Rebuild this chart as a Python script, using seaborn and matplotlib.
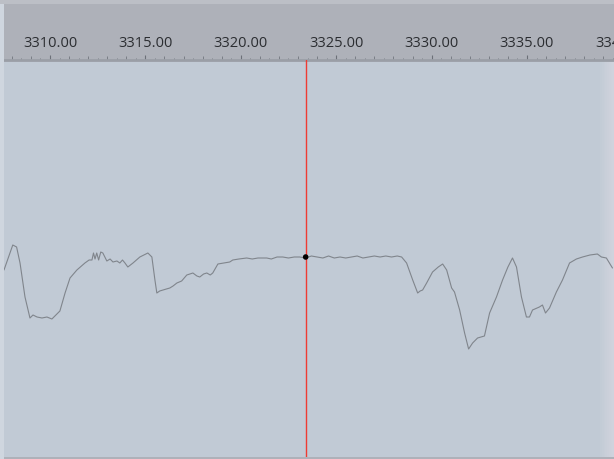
import matplotlib
matplotlib.use("Agg")
import matplotlib.pyplot as plt
import matplotlib.patches as mpatches
import matplotlib.transforms as mtransforms
from matplotlib.ticker import MultipleLocator, FormatStrFormatter
import seaborn as sns
import pandas as pd

sns.set_theme(style="white")
plt.rcParams["font.family"] = ["Open Sans", "DejaVu Sans"]

# Spectrum trace: wavelength and relative intensity
wavelength = [
    3307.59, 3308.05, 3308.25, 3308.43, 3308.69, 3308.95, 3309.11, 3309.32,
    3309.58, 3309.84, 3310.10, 3310.26, 3310.52, 3310.79, 3311.05, 3311.41,
    3311.83, 3312.05, 3312.20, 3312.28, 3312.36, 3312.45, 3312.55, 3312.66,
    3312.77, 3312.98, 3313.15, 3313.30, 3313.51, 3313.66, 3313.80, 3313.93,
    3314.08, 3314.35, 3314.71, 3315.13, 3315.34, 3315.50, 3315.60, 3315.75,
    3315.92, 3316.10, 3316.28, 3316.45, 3316.65, 3316.90, 3317.17, 3317.49,
    3317.70, 3317.85, 3318.05, 3318.22, 3318.40, 3318.53, 3318.80, 3319.10,
    3319.42, 3319.58, 3319.90, 3320.31, 3320.60, 3320.90, 3321.10, 3321.36,
    3321.60, 3321.90, 3322.20, 3322.50, 3322.80, 3323.09, 3323.40, 3323.70,
    3324.00, 3324.30, 3324.60, 3324.90, 3325.20, 3325.50, 3325.80, 3326.10,
    3326.40, 3326.70, 3327.00, 3327.30, 3327.60, 3327.90, 3328.20, 3328.43,
    3328.69, 3329.01, 3329.27, 3329.40, 3329.53, 3329.74, 3330.05, 3330.35,
    3330.58, 3330.79, 3331.05, 3331.20, 3331.47, 3331.73, 3331.94, 3332.15,
    3332.41, 3332.77, 3333.04, 3333.40, 3333.72, 3334.00, 3334.24, 3334.45,
    3334.71, 3334.97, 3335.13, 3335.29, 3335.65, 3335.81, 3335.97, 3336.18,
    3336.54, 3336.86, 3337.23, 3337.59, 3337.91, 3338.30, 3338.69, 3338.90,
    3339.16, 3339.48,
]
intensity = [
    0.935, 1.060, 1.050, 0.970, 0.800, 0.695, 0.710, 0.700,
    0.695, 0.700, 0.690, 0.705, 0.730, 0.820, 0.895, 0.935,
    0.970, 0.985, 0.985, 1.020, 0.990, 1.020, 0.985, 1.025,
    1.020, 0.980, 0.990, 0.975, 0.980, 0.970, 0.985, 0.970,
    0.950, 0.970, 1.000, 1.020, 1.000, 0.885, 0.820, 0.830,
    0.835, 0.840, 0.845, 0.855, 0.870, 0.880, 0.910, 0.920,
    0.905, 0.900, 0.915, 0.920, 0.910, 0.920, 0.965, 0.970,
    0.975, 0.985, 0.990, 0.995, 0.990, 0.995, 0.995, 0.995,
    0.990, 1.000, 1.000, 0.995, 1.000, 1.000, 0.995, 1.005,
    1.000, 0.995, 1.005, 0.995, 1.000, 0.995, 1.000, 1.005,
    0.995, 1.000, 1.005, 1.000, 1.005, 1.000, 1.005, 1.000,
    0.970, 0.885, 0.820, 0.830, 0.835, 0.870, 0.925, 0.950,
    0.965, 0.935, 0.845, 0.825, 0.735, 0.620, 0.540, 0.570,
    0.595, 0.605, 0.720, 0.800, 0.885, 0.950, 0.995, 0.950,
    0.800, 0.700, 0.700, 0.735, 0.750, 0.760, 0.720, 0.745,
    0.825, 0.885, 0.970, 0.990, 1.000, 1.010, 1.015, 1.000,
    0.995, 0.945,
]

# Cursor position and the point it marks
cursor_x = 3323.40
cursor_y = 1.000

x_min, x_max = 3307.59, 3339.56
y_min, y_max = 0.0, 1.985
edge_label = 3340.0  # next scale label, partly beyond the right edge

header_color = "#aeb1b9"
plot_color = "#c1cad5"
trace_color = "#80858c"
cursor_color = "#ee3b33"
tick_label_color = "#2b2d31"

W, H = 614, 459
fig = plt.figure(figsize=(W / 100, H / 100), dpi=100, facecolor=header_color)

# light frame strips on the outer edges
fig.patches.append(mpatches.Rectangle((0, 0), 4 / W, 1, transform=fig.transFigure,
                                      facecolor="#cfd6df", edgecolor="none", zorder=0))
fig.patches.append(mpatches.Rectangle((0, 1 - 4 / H), 1, 4 / H, transform=fig.transFigure,
                                      facecolor="#bcbfc6", edgecolor="none", zorder=0))

top_px, bottom_px = 60, 457
ax = fig.add_axes([4 / W, 1 - bottom_px / H, (W - 4) / W, (bottom_px - top_px) / H])
ax.set_facecolor(plot_color)

df = pd.DataFrame({"wavelength": wavelength, "intensity": intensity})
sns.lineplot(data=df, x="wavelength", y="intensity", ax=ax, color=trace_color,
             linewidth=0.8, sort=False, estimator=None)
ax.axvline(cursor_x, color=cursor_color, linewidth=1.0, zorder=4)
sns.scatterplot(x=[cursor_x], y=[cursor_y], ax=ax, color="black", s=16,
                edgecolor="none", zorder=5)

# soft highlight near the right edge
for i in range(8):
    ax.axvspan(x_max - (8 - i) * 0.09, x_max, color="white", alpha=0.04,
               linewidth=0, zorder=1)

ax.set_xlim(x_min, x_max)
ax.set_ylim(y_min, y_max)
ax.set_xlabel("")
ax.set_ylabel("")
ax.yaxis.set_visible(False)

label_size = 10.5
major_len, label_pad = 3.6, 3.0

ax.xaxis.set_ticks_position("top")
ax.xaxis.set_label_position("top")
ax.xaxis.set_major_locator(MultipleLocator(5))
ax.xaxis.set_major_formatter(FormatStrFormatter("%.2f"))
ax.xaxis.set_minor_locator(MultipleLocator(0.5))
ax.tick_params(axis="x", which="major", direction="out", length=major_len, width=0.8,
               color="#6c7078", labelsize=label_size, labelcolor=tick_label_color,
               pad=label_pad, top=True, bottom=False, labeltop=True, labelbottom=False)
ax.tick_params(axis="x", which="minor", direction="out", length=1.6, width=0.7,
               color="#7a7e86", top=True, bottom=False)

# unit ticks, a little longer than the half-unit ones
sec = ax.secondary_xaxis("top")
sec.xaxis.set_major_locator(MultipleLocator(1))
sec.tick_params(axis="x", which="major", direction="out", length=2.8, width=0.7,
                color="#7a7e86", labeltop=False)
sec.spines["top"].set_visible(False)

# the scale label that runs off the right edge
off = mtransforms.offset_copy(ax.get_xaxis_transform(), fig=fig, x=0,
                              y=major_len + label_pad, units="points")
ax.text(edge_label, 1.0, f"{edge_label:.2f}", transform=off, ha="center", va="bottom",
        fontsize=label_size, color=tick_label_color, clip_on=False)

for side in ("left", "right", "bottom"):
    ax.spines[side].set_visible(False)
ax.spines["top"].set_color("#9a9ea6")
ax.spines["top"].set_linewidth(2.0)

fig.savefig("out.png", dpi=100, facecolor=header_color)
